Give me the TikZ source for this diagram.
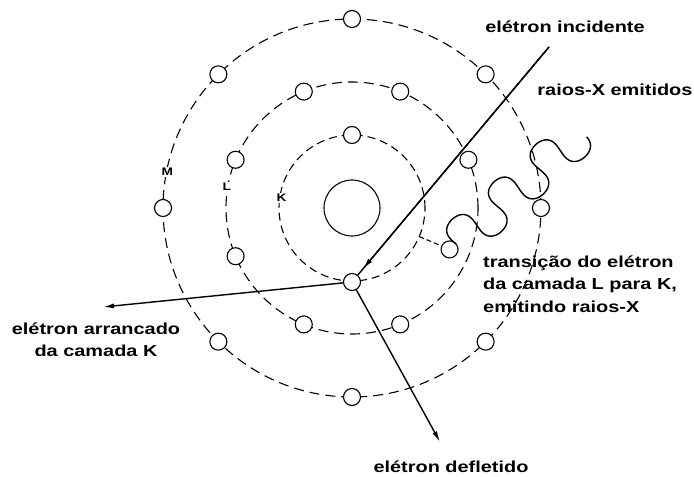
\documentclass[tikz,border=0pt]{standalone}
\usepackage{fontspec}
\setmainfont{Liberation Sans}[FakeStretch=1.25]
\usepackage{tikz}
\usetikzlibrary{arrows.meta}
\tikzset{
    shell/.style={
        draw,
        dash pattern=on 10bp off 6bp,
        line width=1.1bp
    },
    electron/.style={
        draw,
        circle,
        fill=white,
        minimum size=17bp,
        inner sep=0pt,
        line width=1.1bp
    },
    shellname/.style={
        fill=white,
        inner sep=1pt,
        font=\bfseries\fontsize{11}{12}\selectfont
    },
    note/.style={
        align=center,
        inner sep=0pt,
        font=\bfseries\fontsize{16}{22.5}\selectfont
    },
    wire/.style={line width=1.4bp},
    flow/.style={-{Latex[length=11bp,width=5bp]}, line width=1.4bp}
}

\begin{document}
\begin{tikzpicture}[x=1bp, y=1bp]
        \useasboundingbox (-352,-269) rectangle (342,208);

        \draw[shell] (0,0) circle (189);
        \draw[shell] (0,0) circle (126);
        \draw[shell, dash pattern=on 8bp off 5bp] (0,0) circle (73);
        \node[draw, circle, minimum size=56bp, line width=1.1bp] (nucleus) at (0,0) {};

        \node[shellname] (nameM) at (169:188) {M};
        \node[shellname] (nameL) at (170.5:127) {L};
        \node[shellname] (nameK) at (172:71) {K};

        \node[electron] (m1) at (0:189) {};
        \node[electron] (m2) at (45:189) {};
        \node[electron] (m3) at (90:189) {};
        \node[electron] (m4) at (135:189) {};
        \node[electron] (m5) at (180:189) {};
        \node[electron] (m6) at (225:189) {};
        \node[electron] (m7) at (270:189) {};
        \node[electron] (m8) at (315:189) {};

        \node[electron] (l1) at (22.5:126) {};
        \node[electron] (l2) at (67.5:126) {};
        \node[electron] (l3) at (112.5:126) {};
        \node[electron] (l4) at (157.5:126) {};
        \node[electron] (l5) at (202.5:126) {};
        \node[electron] (l6) at (247.5:126) {};
        \node[electron] (l7) at (292.5:126) {};

        \node[electron] (k1) at (90:73) {};
        \node[electron] (k2) at (270:74) {};
        \node[electron] (jump) at (-23:106) {};
        \draw[shell, dash pattern=on 5bp off 3bp] (-23:73) -- (jump);

        \begin{scope}[shift={(104,-36)}, rotate=41.8]
            \draw[line width=1.4bp] plot[smooth, samples=140, domain=0:1060, variable=\t]
                ({0.15556*\t - 6*sin(2*\t)}, {21*sin(\t)});
        \end{scope}

        \coordinate (incoming) at (197,161);
        \coordinate (knocked) at (-249,-99);
        \coordinate (deflected) at (88,-234);
        \draw[wire] (incoming) -- (k2);
        \draw[flow, shorten >=8bp] (incoming) -- (k2);
        \draw[flow] (k2) -- (knocked);
        \draw[flow] (k2) -- (deflected);

        \node[note] (incidente) at (213,181) {elétron incidente};
        \node[note] (emitidos) at (263,118) {raios-X emitidos};
        \node[note, anchor=west, align=left] (transicao) at (131,-76) {transição do elétron\\da camada L para K,\\emitindo raios-X};
        \node[note] (arrancado) at (-256,-132) {elétron arrancado\\da camada K};
        \node[note] (defletido) at (99,-259) {elétron defletido};
    \end{tikzpicture}
\end{document}
